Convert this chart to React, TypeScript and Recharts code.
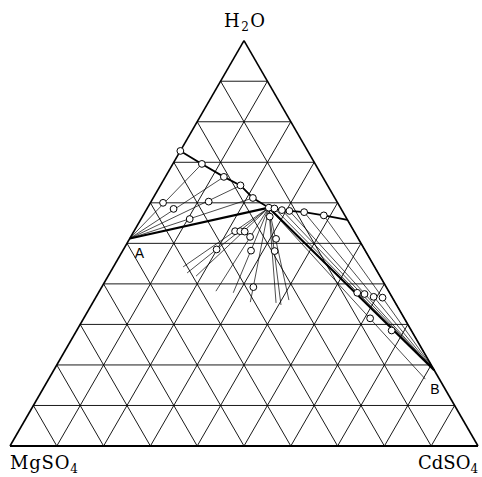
import React from "react";
import { ScatterChart, Scatter, XAxis, YAxis, ReferenceLine, ReferenceDot } from "recharts";

// compositions are [water, CdSO4] weight fractions, MgSO4 is the rest
const divisions = 10;
const solidA = [0.512, 0]; // MgSO4.7H2O
const solidB = [0.187, 0.813]; // CdSO4.8/3H2O
const invariantE = [0.588, 0.259];
const mgBranch = [[0.728, 0], [0.696, 0.062], [0.664, 0.125], [0.643, 0.171], [0.612, 0.213]];
const cdBranch = [[0.586, 0.272], [0.582, 0.29], [0.58, 0.307], [0.577, 0.34], [0.569, 0.386], [0.558, 0.442]];
const residuesA = [[0.6, 0.027], [0.585, 0.057], [0.603, 0.123], [0.56, 0.104]];
const residuesB = [[0.285, 0.673], [0.378, 0.553], [0.375, 0.57], [0.368, 0.593], [0.366, 0.613]];
const residues3 = [
  [0.53, 0.216], [0.53, 0.227], [0.529, 0.237], [0.516, 0.255], [0.482, 0.274], [0.485, 0.199],
  [0.566, 0.272], [0.511, 0.313], [0.481, 0.325], [0.392, 0.324], [0.315, 0.612],
];
// far ends of the lines drawn from E through the three-phase residues
const fanEnds = [
  [0.442, 0.149], [0.427, 0.165], [0.419, 0.188], [0.382, 0.249], [0.378, 0.288],
  [0.353, 0.392], [0.36, 0.416], [0.348, 0.405], [0.355, 0.336], [0.165, 0.805],
];

const H = Math.sqrt(3) / 2;
const pt = (c: number[]) => ({ x: c[1] + c[0] / 2, y: c[0] * H });

const gridSegs: { a: number[]; b: number[] }[] = [];
for (let k = 1; k < divisions; k++) {
  const f = k / divisions;
  gridSegs.push({ a: [f, 0], b: [f, 1 - f] });
  gridSegs.push({ a: [0, f], b: [1 - f, f] });
  gridSegs.push({ a: [0, 1 - f], b: [1 - f, 0] });
}
const edges = [
  { a: [0, 0], b: [0, 1], w: 2 },
  { a: [0, 0], b: [1, 0], w: 1.6 },
  { a: [0, 1], b: [1, 0], w: 1.6 },
];

const thinTies = [
  ...mgBranch.slice(1).map((l) => ({ a: solidA, b: l })),
  ...cdBranch.map((l) => ({ a: l, b: solidB })),
  ...fanEnds.map((e) => ({ a: invariantE, b: e })),
];
const thickTies = [
  { a: solidA, b: invariantE },
  { a: invariantE, b: solidB },
];

const curve = [...mgBranch, invariantE, ...cdBranch].map(pt);
const circles = [...mgBranch, invariantE, ...cdBranch.slice(0, 5), ...residuesA, ...residuesB, ...residues3].map(pt);

const serif = "'DejaVu Serif', 'Liberation Serif', serif";
const sans = "'Liberation Sans', Arial, sans-serif";

const seg = (s: { a: number[]; b: number[] }, i: number, w: number, key: string) => {
  const p = pt(s.a);
  const q = pt(s.b);
  return (
    <ReferenceLine
      key={key + i}
      segment={[{ x: p.x, y: p.y }, { x: q.x, y: q.y }]}
      stroke="#000"
      strokeWidth={w}
      ifOverflow="visible"
    />
  );
};

const chemLabel = (main: string, sub: string, tail: string, dx: number, dy: number, spacing: number) => (props: any) => {
  const vb = props.viewBox || {};
  const x = (vb.x ?? 0) + (vb.width ?? 0) / 2 + dx;
  const y = (vb.y ?? 0) + (vb.height ?? 0) / 2 + dy;
  return (
    <text x={x} y={y} fontFamily={serif} fontSize={18} fill="#000" letterSpacing={spacing}>
      {main}
      <tspan fontSize={12} dy={4}>{sub}</tspan>
      {tail ? <tspan dy={-4}>{tail}</tspan> : null}
    </text>
  );
};

const letter = (t: string, dx: number, dy: number) => (props: any) => {
  const vb = props.viewBox || {};
  const x = (vb.x ?? 0) + (vb.width ?? 0) / 2 + dx;
  const y = (vb.y ?? 0) + (vb.height ?? 0) / 2 + dy;
  return (
    <text x={x} y={y} fontFamily={sans} fontSize={14} fill="#000">
      {t}
    </text>
  );
};

const noShape = () => <g />;
const openCircle = (p: any) => <circle cx={p.cx} cy={p.cy} r={3.4} fill="#fff" stroke="#000" strokeWidth={1} />;

export default function App() {
  const top = pt([1, 0]);
  const left = pt([0, 0]);
  const right = pt([0, 1]);
  const a = pt(solidA);
  const b = pt(solidB);
  return (
    <div style={{ width: 482, height: 477, background: "#fff" }}>
      <style>{"body{margin:0;background:#fff}"}</style>
      <ScatterChart width={482} height={477} margin={{ top: 24.8, right: 4, bottom: 31, left: 10 }}>
        <XAxis type="number" dataKey="x" domain={[0, 1]} hide allowDataOverflow />
        <YAxis type="number" dataKey="y" domain={[0, 0.9]} hide allowDataOverflow />
        {gridSegs.map((s, i) => seg(s, i, 0.9, "g"))}
        {edges.map((s, i) => seg(s, i, s.w, "e"))}
        {thinTies.map((s, i) => seg(s, i, 0.7, "t"))}
        {thickTies.map((s, i) => seg(s, i, 2.2, "k"))}
        <Scatter data={curve} line={{ stroke: "#000", strokeWidth: 1.8 }} shape={noShape} isAnimationActive={false} />
        <Scatter data={circles} shape={openCircle} isAnimationActive={false} />
        <ReferenceDot x={top.x} y={top.y} r={0} stroke="none" fill="none" label={chemLabel("H", "2", "O", -20, -14, 1.5)} />
        <ReferenceDot x={left.x} y={left.y} r={0} stroke="none" fill="none" label={chemLabel("MgSO", "4", "", 0, 23, 0.8)} />
        <ReferenceDot x={right.x} y={right.y} r={0} stroke="none" fill="none" label={chemLabel("CdSO", "4", "", -60, 23, 0)} />
        <ReferenceDot x={a.x} y={a.y} r={0} stroke="none" fill="none" label={letter("A", 5, 20)} />
        <ReferenceDot x={b.x} y={b.y} r={0} stroke="none" fill="none" label={letter("B", -4, 24)} />
      </ScatterChart>
    </div>
  );
}
